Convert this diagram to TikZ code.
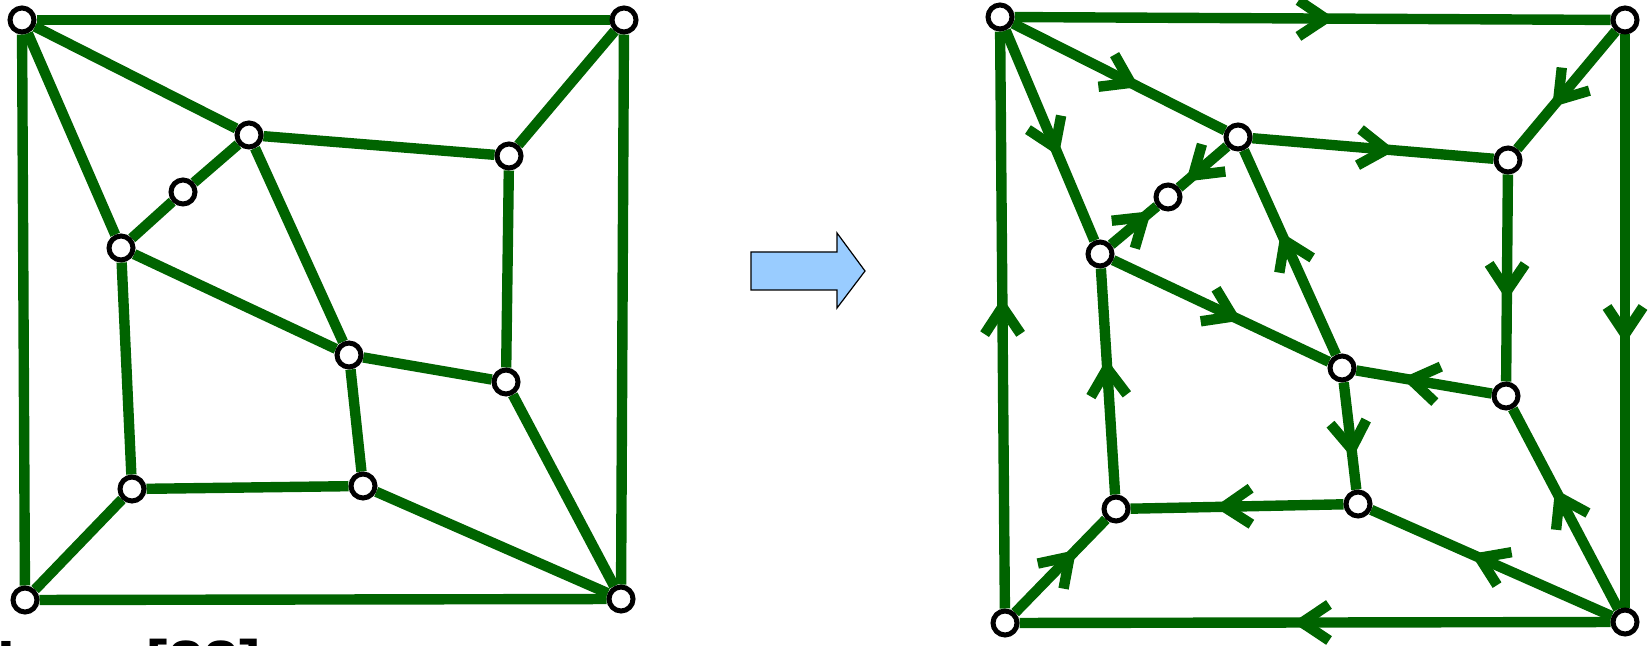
\documentclass[tikz,border=0pt]{standalone}
\usepackage{fontspec}
\setmainfont{Liberation Sans}
\usetikzlibrary{decorations.markings,backgrounds}
\definecolor{g}{RGB}{0,100,0}
\definecolor{blockblue}{RGB}{153,204,255}
\tikzset{
  vtx/.style={circle, draw=black, fill=white, line width=2.5pt, minimum size=12pt, inner sep=0pt},
  edge/.style={draw=g, line width=5.2pt},
  diredge/.style={edge, postaction={decorate},
    decoration={markings, mark=at position 0.5 with {\draw[g, line width=5.2pt, line cap=butt, miter limit=10] (-14,18) -- (13,0) -- (-14,-18);}}},
  blockarrow/.style={fill=blockblue, draw=black, line width=0.6pt, line join=miter},
}
\begin{document}
\begin{tikzpicture}[x=0.5pt,y=-0.5pt]
\useasboundingbox (0,0) rectangle (1648,646);
% left graph vertices
\node[vtx] (tl) at (22,20) {};
\node[vtx] (tr) at (624,20) {};
\node[vtx] (bl) at (25,600) {};
\node[vtx] (br) at (621,599) {};
\node[vtx] (a) at (249,135) {};
\node[vtx] (m) at (183,192) {};
\node[vtx] (b) at (121,248) {};
\node[vtx] (c) at (509,156) {};
\node[vtx] (d) at (349,355) {};
\node[vtx] (e) at (506,382) {};
\node[vtx] (f) at (132,489) {};
\node[vtx] (gg) at (363,486) {};
% right graph vertices
\node[vtx] (tl2) at (1000,17) {};
\node[vtx] (tr2) at (1625,20) {};
\node[vtx] (bl2) at (1005,623) {};
\node[vtx] (br2) at (1625,622) {};
\node[vtx] (a2) at (1238,137) {};
\node[vtx] (m2) at (1168,197) {};
\node[vtx] (b2) at (1100,254) {};
\node[vtx] (c2) at (1508,160) {};
\node[vtx] (d2) at (1342,368) {};
\node[vtx] (e2) at (1506,396) {};
\node[vtx] (f2) at (1116,509) {};
\node[vtx] (g2) at (1358,504) {};
\begin{pgfonlayer}{background}
% left edges
\foreach \u/\v in {tl/tr, tr/br, br/bl, bl/tl, tl/a, tl/b, a/m, m/b, a/c, a/d, tr/c, c/e, b/d, d/e, d/gg, e/br, gg/br, f/gg, f/b, bl/f}
  \draw[edge] (\u) -- (\v);
% right edges
\foreach \u/\v in {tl2/tr2, tr2/br2, br2/bl2, bl2/tl2, tl2/a2, tl2/b2, a2/m2, b2/m2, tr2/c2, a2/c2, c2/e2, d2/a2, b2/d2, e2/d2, d2/g2, br2/e2, br2/g2, g2/f2, f2/b2, bl2/f2}
  \draw[diredge] (\u) -- (\v);
\end{pgfonlayer}
% block arrow
\draw[blockarrow] (751,252) -- (837,252) -- (837,233) -- (865,271) -- (837,308) -- (837,290) -- (751,290) -- cycle;
% clipped caption
\node[anchor=base west, inner sep=0pt, font=\fontsize{32}{38}\selectfont\bfseries] (cite) at (-3,685) {Lam [88]};
\end{tikzpicture}
\end{document}
